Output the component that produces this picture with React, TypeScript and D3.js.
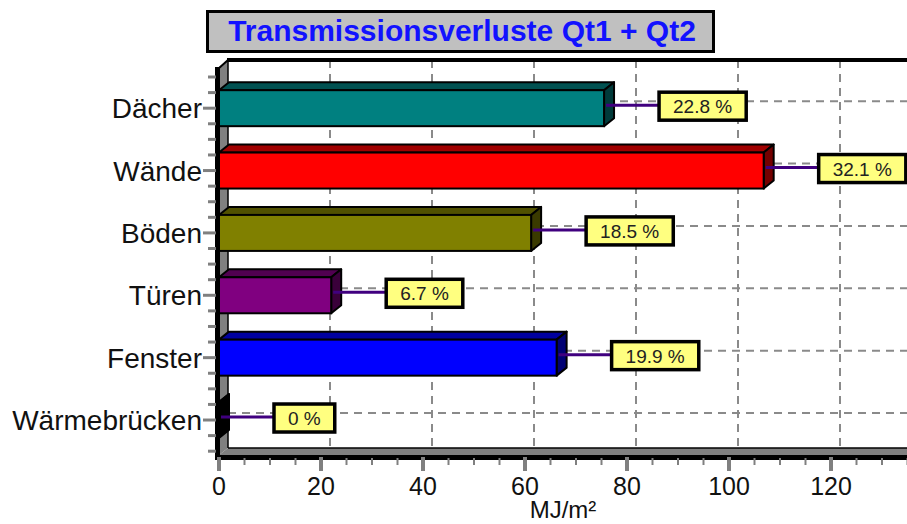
import React, { useEffect, useRef } from 'react';
import * as d3 from 'd3';

const categories = ['Dächer', 'Wände', 'Böden', 'Türen', 'Fenster', 'Wärmebrücken'];
const values = [75.5, 106.8, 61.2, 22.0, 66.2, 0];
const percentLabels = ['22.8 %', '32.1 %', '18.5 %', '6.7 %', '19.9 %', '0 %'];
const barColors = ['#008080', '#ff0000', '#808000', '#800080', '#0000ff', '#000000'];
const xTickValues = [0, 20, 40, 60, 80, 100, 120];
const title = 'Transmissionsverluste Qt1 + Qt2';
const xTitle = 'MJ/m²';

const W = 907;
const H = 524;
const FONT = "'Liberation Sans', Arial, Helvetica, sans-serif";

export default function App() {
  const ref = useRef<SVGSVGElement>(null);

  useEffect(() => {
    const svg = d3.select(ref.current);
    svg.selectAll('*').remove();

    const x = d3.scaleLinear().domain([0, 140]).range([219, 219 + 140 * 5.1]);
    const y = d3.scaleBand().domain(categories).range([77, 451.2]);
    const band = y.bandwidth();
    const cy = (c: string) => (y(c) as number) + band / 2;

    const dx = 9, dy = 7;
    const bdx = 10, bdy = 8;
    const barH = 36;
    const right = W + 30;
    const front = { left: 219, top: 67, bottom: 455 };
    const back = { left: front.left + dx, top: front.top - dy, bottom: front.bottom - dy };

    // back plane
    svg.append('rect')
      .attr('x', back.left).attr('y', back.top)
      .attr('width', right - back.left).attr('height', back.bottom - back.top)
      .attr('fill', '#ffffff');

    // gridlines
    const grid = svg.append('g');
    d3.range(20, 141, 20).forEach((v) => {
      grid.append('line')
        .attr('x1', x(v) + dx).attr('x2', x(v) + dx)
        .attr('y1', back.top).attr('y2', back.bottom)
        .attr('stroke', '#8a8a8a').attr('stroke-width', 2).attr('stroke-dasharray', '8,6');
    });
    categories.forEach((c) => {
      grid.append('line')
        .attr('x1', back.left).attr('x2', right)
        .attr('y1', cy(c) - dy).attr('y2', cy(c) - dy)
        .attr('stroke', '#8a8a8a').attr('stroke-width', 2).attr('stroke-dasharray', '8,6');
    });

    // left wall and floor
    svg.append('path')
      .attr('d', `M${front.left},${front.top}L${back.left},${back.top}L${back.left},${back.bottom}L${front.left},${front.bottom}Z`)
      .attr('fill', '#808080');
    svg.append('path')
      .attr('d', `M${front.left},${front.bottom}L${back.left},${back.bottom}L${right},${back.bottom}L${right},${front.bottom}Z`)
      .attr('fill', '#808080');
    svg.append('line')
      .attr('x1', back.left).attr('x2', back.left).attr('y1', back.top).attr('y2', back.bottom)
      .attr('stroke', '#000').attr('stroke-width', 1.5);
    svg.append('line')
      .attr('x1', back.left).attr('x2', right).attr('y1', back.bottom).attr('y2', back.bottom)
      .attr('stroke', '#000').attr('stroke-width', 1.5);
    // top frame
    svg.append('line')
      .attr('x1', back.left - 1).attr('x2', right).attr('y1', back.top).attr('y2', back.top)
      .attr('stroke', '#000').attr('stroke-width', 4);
    svg.append('path')
      .attr('d', `M${front.left - 1},${front.top + 2}L${back.left},${back.top}`)
      .attr('stroke', '#000').attr('stroke-width', 2).attr('fill', 'none');

    // bars
    const bars = svg.append('g');
    categories.forEach((c, i) => {
      const v = values[i];
      const x0 = x(0);
      const x1 = x(v);
      const yc = cy(c);
      const top = yc - barH / 2;
      const bot = yc + barH / 2;
      const base = d3.color(barColors[i])!;
      const topCol = base.darker(1.3).formatHex();
      const sideCol = base.darker(2.2).formatHex();
      bars.append('path')
        .attr('d', `M${x0},${top}L${x0 + bdx},${top - bdy}L${x1 + bdx},${top - bdy}L${x1},${top}Z`)
        .attr('fill', topCol).attr('stroke', '#000').attr('stroke-width', 2).attr('stroke-linejoin', 'round');
      bars.append('path')
        .attr('d', `M${x1},${top}L${x1 + bdx},${top - bdy}L${x1 + bdx},${bot - bdy}L${x1},${bot}Z`)
        .attr('fill', sideCol).attr('stroke', '#000').attr('stroke-width', 2).attr('stroke-linejoin', 'round');
      if (x1 > x0) {
        bars.append('rect')
          .attr('x', x0).attr('y', top).attr('width', x1 - x0).attr('height', barH)
          .attr('fill', barColors[i]).attr('stroke', '#000').attr('stroke-width', 2);
      }
    });

    // left axis (front)
    svg.append('rect')
      .attr('x', front.left - 4).attr('y', front.top)
      .attr('width', 5).attr('height', front.bottom - front.top + 5)
      .attr('fill', '#000');
    // bottom axis (front)
    svg.append('rect')
      .attr('x', front.left - 4).attr('y', front.bottom)
      .attr('width', right - front.left).attr('height', 5)
      .attr('fill', '#000');

    // left ticks
    const yt = svg.append('g');
    for (let k = 0; k <= categories.length * 4; k++) {
      const yy = 77 + (k * band) / 4;
      const major = k % 4 === 2;
      yt.append('line')
        .attr('x1', major ? 203 : 208).attr('x2', front.left - 3)
        .attr('y1', yy).attr('y2', yy)
        .attr('stroke', '#808080').attr('stroke-width', 3);
    }
    // category labels
    categories.forEach((c) => {
      svg.append('text')
        .attr('x', 202).attr('y', cy(c) + 10)
        .attr('text-anchor', 'end')
        .attr('font-family', FONT).attr('font-size', 28).attr('fill', '#111')
        .text(c);
    });

    // x ticks
    const xt = svg.append('g');
    d3.range(0, 141, 5).forEach((v) => {
      const major = v % 20 === 0;
      if (major) {
        xt.append('rect')
          .attr('x', x(v) - 2).attr('y', front.bottom + 2)
          .attr('width', 4).attr('height', 14)
          .attr('fill', '#808080');
      } else {
        xt.append('line')
          .attr('x1', x(v)).attr('x2', x(v))
          .attr('y1', front.bottom + 3).attr('y2', front.bottom + 10)
          .attr('stroke', '#808080').attr('stroke-width', 2);
      }
    });
    xTickValues.forEach((v) => {
      svg.append('text')
        .attr('x', x(v)).attr('y', 495)
        .attr('text-anchor', 'middle')
        .attr('font-family', FONT).attr('font-size', 25).attr('fill', '#111')
        .text(String(v));
    });
    svg.append('text')
      .attr('x', 563).attr('y', 518)
      .attr('text-anchor', 'middle')
      .attr('font-family', FONT).attr('font-size', 24).attr('fill', '#111')
      .text(xTitle);

    // connectors and percent boxes
    categories.forEach((c, i) => {
      const xe = x(values[i]);
      const yc = cy(c);
      const bx = xe + 55;
      const g = svg.append('g');
      g.append('line')
        .attr('x1', xe + 2).attr('x2', bx)
        .attr('y1', yc - 3).attr('y2', yc - 3)
        .attr('stroke', '#40007f').attr('stroke-width', 3);
      const rect = g.append('rect');
      const t = g.append('text')
        .attr('font-family', FONT).attr('font-size', 19).attr('fill', '#222')
        .attr('text-anchor', 'middle')
        .text(percentLabels[i]);
      const tw = (t.node() as SVGTextElement).getComputedTextLength();
      const bw = tw + 28;
      const bh = 28;
      rect.attr('x', bx).attr('y', yc - 2 - bh / 2).attr('width', bw).attr('height', bh)
        .attr('fill', '#ffff80').attr('stroke', '#000').attr('stroke-width', 3.5);
      t.attr('x', bx + bw / 2).attr('y', yc - 2 + 7);
    });

    // title
    svg.append('rect')
      .attr('x', 207.5).attr('y', 11.5).attr('width', 506).attr('height', 40)
      .attr('fill', '#c0c0c0').attr('stroke', '#000').attr('stroke-width', 3);
    svg.append('text')
      .attr('x', 462).attr('y', 41)
      .attr('text-anchor', 'middle')
      .attr('font-family', FONT).attr('font-size', 30).attr('font-weight', 'bold')
      .attr('fill', '#1212ff')
      .text(title);
  }, []);

  return (
    <svg
      ref={ref}
      width={W}
      height={H}
      style={{ position: 'absolute', left: 0, top: 0, background: '#fff', overflow: 'hidden' }}
    />
  );
}
